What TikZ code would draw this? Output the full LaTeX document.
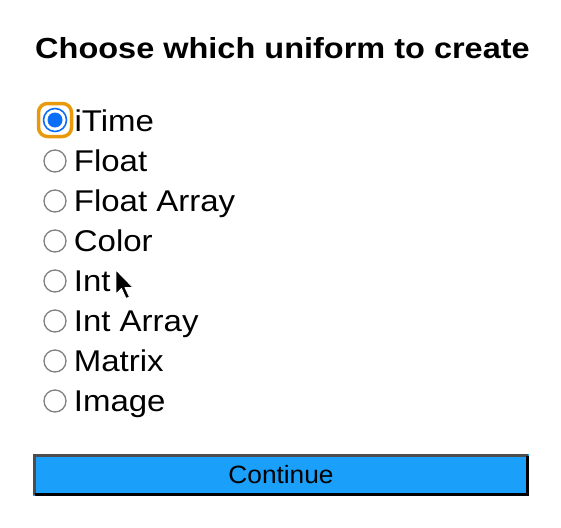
\documentclass[tikz,border=0pt]{standalone}
\usepackage{fontspec}
\setmainfont{Liberation Sans}
\usepackage{tikz}
\usetikzlibrary{positioning}

\definecolor{radiogray}{HTML}{808080}
\definecolor{radioblue}{HTML}{0B6EF7}
\definecolor{focusorange}{HTML}{E8990C}
\definecolor{buttonblue}{HTML}{1A9FFA}
\definecolor{bordergray}{HTML}{4D4D4D}

\begin{document}
\begin{tikzpicture}[x=1pt,y=-1pt,node distance=40pt,on grid,
  radio/.style={circle,draw=radiogray,line width=1.3pt,minimum size=22pt,inner sep=0pt},
  picked/.style={circle,draw=radioblue,line width=1.6pt,minimum size=23pt,inner sep=0pt},
  opt/.style={anchor=base west,inner sep=0pt,xscale=1.1,font=\fontsize{30}{30}\selectfont}]
  \useasboundingbox (0,0) rectangle (561,527);
  \node[anchor=base west,inner sep=0pt,xscale=1.12,font=\bfseries\fontsize{29}{29}\selectfont]
    (title) at (35,58) {Choose which uniform to create};

  % focus ring and radio buttons
  \draw[focusorange,line width=3.5pt,rounded corners=9pt] (38.5,103.5) rectangle (71.5,136.5);
  \node[picked] (rTime) at (55,120) {};
  \fill[radioblue] (rTime) circle (7.5pt);
  \node[radio] (rFloat) at (55,161) {};
  \node[radio] (rFloatArr) [below = of rFloat] {};
  \node[radio] (rColor) [below = of rFloatArr] {};
  \node[radio] (rInt) [below = of rColor] {};
  \node[radio] (rIntArr) [below = of rInt] {};
  \node[radio] (rMatrix) [below = of rIntArr] {};
  \node[radio] (rImage) [below = of rMatrix] {};

  % option labels
  \node[opt] (lTime) at ([xshift=7pt,yshift=-11pt]rTime.east) {iTime};
  \node[opt] (lFloat) at ([xshift=7pt,yshift=-10pt]rFloat.east) {Float};
  \node[opt] (lFloatArr) at ([xshift=7pt,yshift=-10pt]rFloatArr.east) {Float Array};
  \node[opt] (lColor) at ([xshift=7pt,yshift=-10pt]rColor.east) {Color};
  \node[opt] (lInt) at ([xshift=7pt,yshift=-10pt]rInt.east) {Int};
  \node[opt] (lIntArr) at ([xshift=7pt,yshift=-10pt]rIntArr.east) {Int Array};
  \node[opt] (lMatrix) at ([xshift=7pt,yshift=-10pt]rMatrix.east) {Matrix};
  \node[opt] (lImage) at ([xshift=7pt,yshift=-10pt]rImage.east) {Image};

  % continue button
  \fill[buttonblue] (33,454) rectangle (529,496);
  \draw[bordergray,line width=3pt] (34.5,495) -- (34.5,455.5) -- (528,455.5);
  \draw[black,line width=3pt] (34.5,494.5) -- (527.5,494.5) -- (527.5,455.5);
  \node[inner sep=0pt,anchor=base,xscale=1.05,font=\fontsize{25}{25}\selectfont]
    (continue) at (281,483) {Continue};

  % mouse pointer
  \filldraw[fill=black,draw=white,line width=0.9pt,line join=round]
    (116,270) -- (116,294) -- (121.5,288.5) -- (126,298.5) -- (129.5,297)
    -- (125,287.5) -- (133,287.5) -- cycle;
\end{tikzpicture}
\end{document}
